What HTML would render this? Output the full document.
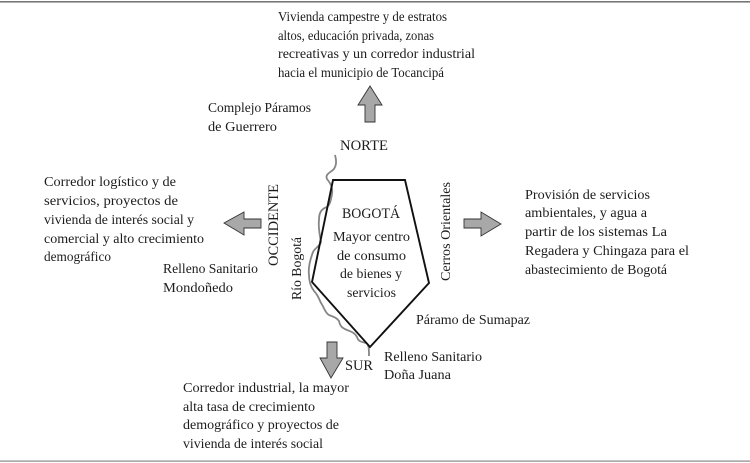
<!DOCTYPE html>
<html><head><meta charset="utf-8"><style>
html,body{margin:0;padding:0;background:#fff;width:750px;height:463px;overflow:hidden}
svg{display:block}
text{font-family:"Liberation Serif",serif;font-size:14px;fill:#1c1c1c}
text.c{font-size:15px}
</style></head><body>
<svg width="750" height="463" viewBox="0 0 750 463" xmlns="http://www.w3.org/2000/svg">
<rect x="0" y="1" width="750" height="1.6" fill="#777"/>
<rect x="0" y="460.5" width="750" height="1.2" fill="#888"/>

<path d="M335 155C337 162 336 167 333 170C329 173 325 175 327 179C331 184 333 188 332 194C331 200 330 205 327 207C321 209 319 213 319 220C318 228 320 236 321 242C320 246 315 248 313 252C310 260 308 268 309 275C309 282 311 287 314 291C318 295 319 299 321 303C324 307 325 313 329 315C334 317 337 318 339 321C340 326 342 328 347 330C352 332 355 333 357 337C358 341 361 342 366 343C369 344 369 350 369 356" fill="none" stroke="#858585" stroke-width="1.8"/>
<polygon points="333,180 405,180 429,283 370,347 312,282" fill="none" stroke="#111" stroke-width="1.9"/>

<g fill="#a8a8a8" stroke="#333" stroke-width="0.9">
<polygon points="370,86 382,105 375,105 375,122 365,122 365,105 358,105"/>
<polygon points="224,223 244,212 244,219 261,219 261,228 244,228 244,235"/>
<polygon points="501,224 481,212 481,219 464,219 464,228 481,228 481,236"/>
<polygon points="331,378 320,358 327,358 327,342 337,342 337,358 343,358"/>
</g>

<text x="278" y="21" textLength="169" lengthAdjust="spacingAndGlyphs">Vivienda campestre y de estratos</text>
<text x="278" y="40" textLength="156" lengthAdjust="spacingAndGlyphs">altos, educación privada, zonas</text>
<text x="278" y="58" textLength="197" lengthAdjust="spacingAndGlyphs">recreativas y un corredor industrial</text>
<text x="278" y="77" textLength="166" lengthAdjust="spacingAndGlyphs">hacia el municipio de Tocancipá</text>

<text x="208" y="112" textLength="103" lengthAdjust="spacingAndGlyphs">Complejo Páramos</text>
<text x="208" y="131" textLength="69" lengthAdjust="spacingAndGlyphs">de Guerrero</text>
<text class="c" x="340" y="150" textLength="48" lengthAdjust="spacingAndGlyphs">NORTE</text>

<text x="44" y="186" textLength="132" lengthAdjust="spacingAndGlyphs">Corredor logístico y de</text>
<text x="44" y="205" textLength="134" lengthAdjust="spacingAndGlyphs">servicios, proyectos de</text>
<text x="44" y="224" textLength="150" lengthAdjust="spacingAndGlyphs">vivienda de interés social y</text>
<text x="44" y="243" textLength="160" lengthAdjust="spacingAndGlyphs">comercial y alto crecimiento</text>
<text x="44" y="261" textLength="67" lengthAdjust="spacingAndGlyphs">demográfico</text>

<text x="163" y="273" textLength="95" lengthAdjust="spacingAndGlyphs">Relleno Sanitario</text>
<text x="163" y="292" textLength="70" lengthAdjust="spacingAndGlyphs">Mondoñedo</text>

<text class="c" transform="translate(278 266) rotate(-90)" textLength="82" lengthAdjust="spacingAndGlyphs">OCCIDENTE</text>
<text transform="translate(301 300) rotate(-90)" textLength="63" lengthAdjust="spacingAndGlyphs">Río Bogotá</text>
<text transform="translate(450 281) rotate(-90)" textLength="99" lengthAdjust="spacingAndGlyphs">Cerros Orientales</text>

<text class="c" x="342" y="218" textLength="58" lengthAdjust="spacingAndGlyphs">BOGOTÁ</text>
<text x="333" y="241" textLength="77" lengthAdjust="spacingAndGlyphs">Mayor centro</text>
<text x="337" y="260" textLength="69" lengthAdjust="spacingAndGlyphs">de consumo</text>
<text x="340" y="278" textLength="62" lengthAdjust="spacingAndGlyphs">de bienes y</text>
<text x="347" y="297" textLength="49" lengthAdjust="spacingAndGlyphs">servicios</text>

<text x="525" y="199" textLength="125" lengthAdjust="spacingAndGlyphs">Provisión de servicios</text>
<text x="525" y="217" textLength="122" lengthAdjust="spacingAndGlyphs">ambientales, y agua a</text>
<text x="525" y="236" textLength="142" lengthAdjust="spacingAndGlyphs">partir de los sistemas La</text>
<text x="525" y="255" textLength="164" lengthAdjust="spacingAndGlyphs">Regadera y Chingaza para el</text>
<text x="525" y="274" textLength="142" lengthAdjust="spacingAndGlyphs">abastecimiento de Bogotá</text>

<text x="416" y="324" textLength="114" lengthAdjust="spacingAndGlyphs">Páramo de Sumapaz</text>
<text x="384" y="361" textLength="98" lengthAdjust="spacingAndGlyphs">Relleno Sanitario</text>
<text x="384" y="379" textLength="67" lengthAdjust="spacingAndGlyphs">Doña Juana</text>
<text class="c" x="345" y="370" textLength="28" lengthAdjust="spacingAndGlyphs">SUR</text>

<text x="183" y="392" textLength="166" lengthAdjust="spacingAndGlyphs">Corredor industrial, la mayor</text>
<text x="183" y="411" textLength="132" lengthAdjust="spacingAndGlyphs">alta tasa de crecimiento</text>
<text x="183" y="429" textLength="156" lengthAdjust="spacingAndGlyphs">demográfico y proyectos de</text>
<text x="183" y="448" textLength="140" lengthAdjust="spacingAndGlyphs">vivienda de interés social</text>
</svg>
</body></html>
